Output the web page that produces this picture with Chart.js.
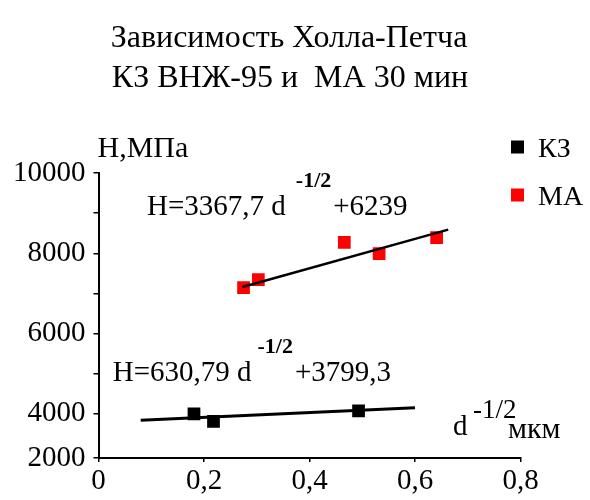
<!DOCTYPE html>
<html lang="ru">
  <head>
    <meta charset="UTF-8" />
    <title>Зависимость Холла-Петча</title>
    <script src="https://cdn.jsdelivr.net/npm/chart.js"></script>
    <style>
      html, body { margin: 0; padding: 0; background: #fff; }
      #wrap { width: 590px; height: 500px; }
    </style>
  </head>
  <body>
    <div id="wrap"><canvas id="chart"></canvas></div>
    <script>
      const titleLines = ['Зависимость Холла-Петча', 'КЗ ВНЖ-95 и  МА 30 мин'];
      const seriesNames = ['КЗ', 'МА'];

      // точки КЗ и МА (d^-1/2, H)
      const kzX = [0.181, 0.218, 0.493];
      const kzY = [4000, 3810, 4075];
      const maX = [0.275, 0.303, 0.466, 0.532, 0.641];
      const maY = [7145, 7345, 8270, 7990, 8390];

      // линии тренда, концы
      const kzTrendX = [0.08, 0.6];
      const kzTrendY = [3840, 4150];
      const maTrendX = [0.273, 0.663];
      const maTrendY = [7160, 8590];

      const xTicks = [0, 0.2, 0.4, 0.6, 0.8];
      const xTickLabels = ['0', '0,2', '0,4', '0,6', '0,8'];
      const yTicks = [2900, 4000, 5000, 6000, 7000, 8000, 9000, 10000];
      const yTickLabels = ['2000', '4000', '', '6000', '', '8000', '', '10000'];

      const yAxisTitle = 'Н,МПа';
      const eqMA = ['Н=3367,7 d', '-1/2', '+6239'];
      const eqKZ = ['Н=630,79 d', '-1/2', '+3799,3'];
      const xAxisTitle = ['d', '-1/2', 'мкм'];

      const serif = '"Liberation Serif", "DejaVu Serif", serif';
      const colors = ['#000000', '#ff0000'];

      function pts(xs, ys) {
        return xs.map((x, i) => ({ x: x, y: ys[i] }));
      }

      function runs(ctx, x, y, parts) {
        for (const p of parts) {
          x += p.gap || 0;
          ctx.font = p.font;
          ctx.fillText(p.text, x, y + (p.dy || 0));
          x += ctx.measureText(p.text).width;
        }
      }

      const extras = {
        id: 'extras',
        afterDraw(chart) {
          const ctx = chart.ctx;
          const xs = chart.scales.x;
          const ys = chart.scales.y;
          ctx.save();
          ctx.fillStyle = '#000';
          ctx.textBaseline = 'alphabetic';

          // заголовок
          ctx.textAlign = 'center';
          ctx.font = '32px ' + serif;
          ctx.fillText(titleLines[0], 289, 47);
          ctx.fillText(titleLines[1], 290, 87);

          ctx.textAlign = 'left';
          ctx.font = '30px ' + serif;
          ctx.fillText(yAxisTitle, chart.chartArea.left - 1, 157);

          // легенда
          const ly = [147, 195];
          seriesNames.forEach((name, i) => {
            ctx.fillStyle = colors[i];
            ctx.fillRect(511, ly[i] - 6.5, 13, 13);
            ctx.fillStyle = '#000';
            ctx.font = '28px ' + serif;
            ctx.fillText(name, 538, ly[i] + 10);
          });

          // уравнения
          const big = '29px ' + serif;
          const sup = 'bold 22px ' + serif;
          runs(ctx, xs.getPixelForValue(0.092), ys.getPixelForValue(8950), [
            { text: eqMA[0], font: big },
            { text: eqMA[1], font: sup, dy: -28, gap: 10 },
            { text: eqMA[2], font: big, gap: 2 }
          ]);
          runs(ctx, xs.getPixelForValue(0.027), ys.getPixelForValue(4812), [
            { text: eqKZ[0], font: big },
            { text: eqKZ[1], font: sup, dy: -28, gap: 6 },
            { text: eqKZ[2], font: big, gap: 2 }
          ]);

          // подпись оси X
          const dx = xs.getPixelForValue(0.672);
          const dy = ys.getPixelForValue(3467);
          ctx.font = big;
          ctx.fillText(xAxisTitle[0], dx, dy);
          ctx.font = '27px ' + serif;
          ctx.fillText(xAxisTitle[1], dx + 20, dy - 17);
          ctx.font = '30px ' + serif;
          ctx.fillText(xAxisTitle[2], dx + 55, dy + 3);
          ctx.restore();
        }
      };

      const tickFont = { family: serif, size: 29 };

      new Chart(document.getElementById('chart'), {
        type: 'scatter',
        data: {
          datasets: [
            {
              label: seriesNames[0],
              data: pts(kzX, kzY),
              pointStyle: 'rect',
              pointRadius: 9,
              pointHoverRadius: 9,
              backgroundColor: colors[0],
              borderColor: colors[0],
              borderWidth: 0,
              order: 1
            },
            {
              label: seriesNames[1],
              data: pts(maX, maY),
              pointStyle: 'rect',
              pointRadius: 9,
              pointHoverRadius: 9,
              backgroundColor: colors[1],
              borderColor: colors[1],
              borderWidth: 0,
              order: 1
            },
            {
              label: 'тренд КЗ',
              data: pts(kzTrendX, kzTrendY),
              showLine: true,
              pointRadius: 0,
              borderColor: '#000',
              borderWidth: 3,
              order: 0
            },
            {
              label: 'тренд МА',
              data: pts(maTrendX, maTrendY),
              showLine: true,
              pointRadius: 0,
              borderColor: '#000',
              borderWidth: 2.5,
              order: 0
            }
          ]
        },
        options: {
          responsive: true,
          maintainAspectRatio: false,
          animation: false,
          layout: { padding: { top: 173, right: 69.5, left: 0, bottom: 0 } },
          plugins: {
            legend: { display: false },
            tooltip: { enabled: false }
          },
          scales: {
            x: {
              type: 'linear',
              min: 0,
              max: 0.8,
              afterBuildTicks: s => { s.ticks = xTicks.map(v => ({ value: v })); },
              afterFit: s => { s.height = 42; },
              ticks: {
                callback: (v, i) => xTickLabels[i],
                font: tickFont,
                color: '#000',
                padding: 2,
                maxRotation: 0,
                autoSkip: false
              },
              grid: { drawOnChartArea: false, tickLength: 4, color: '#000', lineWidth: 1.5 },
              border: { color: '#000', width: 2 }
            },
            y: {
              min: 2900,
              max: 10000,
              afterBuildTicks: s => { s.ticks = yTicks.map(v => ({ value: v })); },
              afterFit: s => { s.width = 98.5; },
              ticks: {
                callback: (v, i) => yTickLabels[i],
                font: tickFont,
                color: '#000',
                padding: 8,
                autoSkip: false
              },
              grid: { drawOnChartArea: false, tickLength: 5, color: '#000', lineWidth: 1.5 },
              border: { color: '#000', width: 2 }
            }
          }
        },
        plugins: [extras]
      });
    </script>
  </body>
</html>
